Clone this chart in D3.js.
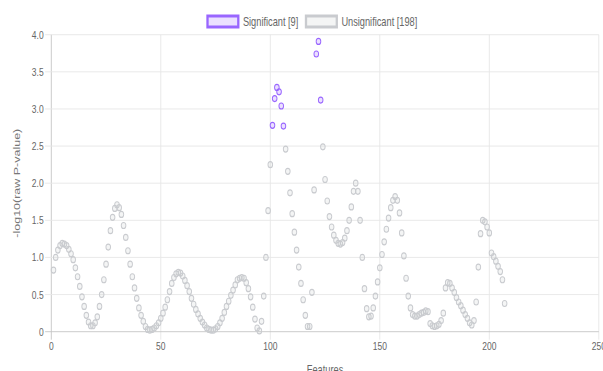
<!DOCTYPE html>
<html>
<head>
<meta charset="utf-8">
<script src="https://cdn.jsdelivr.net/npm/d3@7"></script>
<style>
  html, body { margin: 0; padding: 0; background: #fff; }
  svg { display: block; font-family: "Liberation Sans", Arial, sans-serif; }
</style>
</head>
<body>
<div id="chart"></div>
<script>
// -log10(raw P-value) per feature, features numbered 1..207
const pValues = [
  0.83, 1.00, 1.10, 1.16, 1.19, 1.18, 1.16, 1.11, 1.05, 0.97,
  0.86, 0.74, 0.61, 0.47, 0.34, 0.22, 0.13, 0.08, 0.08, 0.12,
  0.20, 0.34, 0.50, 0.70, 0.91, 1.14, 1.36, 1.54, 1.66, 1.71,
  1.67, 1.58, 1.43, 1.27, 1.09, 0.91, 0.74, 0.59, 0.45, 0.32,
  0.22, 0.14, 0.07, 0.03, 0.02, 0.03, 0.05, 0.08, 0.12, 0.18,
  0.25, 0.33, 0.43, 0.54, 0.65, 0.73, 0.78, 0.80, 0.79, 0.75,
  0.69, 0.62, 0.54, 0.45, 0.37, 0.30, 0.24, 0.18, 0.13, 0.09,
  0.05, 0.03, 0.02, 0.02, 0.04, 0.07, 0.12, 0.18, 0.26, 0.34,
  0.41, 0.49, 0.56, 0.63, 0.70, 0.72, 0.73, 0.72, 0.66, 0.58,
  0.47, 0.33, 0.17, 0.05, 0.01, 0.14, 0.48, 1.00, 1.63, 2.25,
  2.78, 3.14, 3.29, 3.23, 3.04, 2.77, 2.46, 2.16, 1.87, 1.59,
  1.34, 1.10, 0.87, 0.65, 0.43, 0.22, 0.07, 0.07, 0.53, 1.91,
  3.74, 3.91, 3.12, 2.49, 2.05, 1.76, 1.55, 1.41, 1.30, 1.23,
  1.19, 1.18, 1.20, 1.26, 1.36, 1.50, 1.68, 1.89, 2.00, 1.89,
  1.50, 1.00, 0.58, 0.31, 0.20, 0.21, 0.32, 0.48, 0.67, 0.86,
  1.04, 1.21, 1.38, 1.53, 1.67, 1.77, 1.82, 1.77, 1.60, 1.33,
  1.02, 0.72, 0.48, 0.32, 0.23, 0.21, 0.21, 0.23, 0.25, 0.26,
  0.28, 0.27, 0.11, 0.08, 0.07, 0.08, 0.10, 0.15, 0.25, 0.59,
  0.66, 0.65, 0.59, 0.53, 0.46, 0.40, 0.35, 0.29, 0.23, 0.18,
  0.12, 0.09, 0.15, 0.40, 0.87, 1.32, 1.50, 1.48, 1.41, 1.33,
  1.06, 1.01, 0.95, 0.88, 0.81, 0.70, 0.38
];
const significantIds = [101, 102, 103, 104, 105, 106, 121, 122, 123];

const xTicks = [0, 50, 100, 150, 200, 250];
const yTicks = [0, 0.5, 1, 1.5, 2, 2.5, 3, 3.5, 4];
const yTickLabels = ["0", "0.5", "1.0", "1.5", "2.0", "2.5", "3.0", "3.5", "4.0"];

const seriesNames = ["Significant", "Unsignificant"];

// the reference is squeezed horizontally, so draw in a wider space and scale x
const sx = 0.77;
const width = 603, height = 371;

const points = pValues.map((v, i) => ({ id: i + 1, value: v, sig: significantIds.includes(i + 1) }));
const nSig = points.filter(d => d.sig).length;
const nUns = points.length - nSig;

const svg = d3.select("#chart").append("svg")
    .attr("width", width)
    .attr("height", height);

const g = svg.append("g").attr("transform", `scale(${sx},1)`);

const x = d3.scaleLinear().domain([0, 250]).range([51.3 / sx, 598.8 / sx]);
const y = d3.scaleLinear().domain([0, 4]).range([331.7, 34.7]);

const gridColor = "#e6e6e6";
const zeroColor = "#c4c4c4";
const tickLen = 8;

// vertical grid lines
g.append("g").selectAll("line")
    .data(xTicks)
    .join("line")
    .attr("x1", d => x(d)).attr("x2", d => x(d))
    .attr("y1", y(4)).attr("y2", y(0) + tickLen)
    .attr("stroke", d => d === 0 ? zeroColor : gridColor)
    .attr("stroke-width", 1);

// horizontal grid lines
g.append("g").selectAll("line")
    .data(yTicks)
    .join("line")
    .attr("x1", x(0) - tickLen).attr("x2", x(250))
    .attr("y1", d => y(d)).attr("y2", d => y(d))
    .attr("stroke", d => d === 0 ? zeroColor : gridColor)
    .attr("stroke-width", 1);

// tick labels
g.append("g").selectAll("text")
    .data(yTicks)
    .join("text")
    .attr("x", x(0) - 10)
    .attr("y", d => y(d) + 4)
    .attr("text-anchor", "end")
    .attr("font-size", 11)
    .attr("fill", "#666")
    .text((d, i) => yTickLabels[i]);

g.append("g").selectAll("text")
    .data(xTicks)
    .join("text")
    .attr("x", d => x(d))
    .attr("y", 350)
    .attr("text-anchor", "middle")
    .attr("font-size", 11)
    .attr("fill", "#666")
    .text(d => d);

// axis titles
g.append("text")
    .attr("x", (x(0) + x(250)) / 2)
    .attr("y", 374)
    .attr("text-anchor", "middle")
    .attr("font-size", 12)
    .attr("fill", "#666")
    .text("Features");

g.append("text")
    .attr("transform", `translate(${17 / sx},${(y(0) + y(4)) / 2}) rotate(-90)`)
    .attr("text-anchor", "middle")
    .attr("dy", "0.35em")
    .attr("font-size", 12.5)
    .attr("fill", "#777")
    .text("-log10(raw P-value)");

// points
const styles = {
    false: { stroke: "rgb(201,203,207)", fill: "rgba(201,203,207,0.2)" },
    true: { stroke: "rgb(153,102,255)", fill: "rgba(153,102,255,0.2)" }
};

g.append("g").selectAll("circle")
    .data(points.filter(d => !d.sig).concat(points.filter(d => d.sig)))
    .join("circle")
    .attr("cx", d => x(d.id))
    .attr("cy", d => y(d.value))
    .attr("r", 3)
    .attr("fill", d => styles[d.sig].fill)
    .attr("stroke", d => styles[d.sig].stroke)
    .attr("stroke-width", 1.2);

// legend
const legendItems = [
    { label: `${seriesNames[0]} [${nSig}]`, sig: true },
    { label: `${seriesNames[1]} [${nUns}]`, sig: false }
];
const legend = g.append("g");
let lx = 207.5 / sx;
legendItems.forEach(item => {
    legend.append("rect")
        .attr("x", lx).attr("y", 16)
        .attr("width", 40).attr("height", 11)
        .attr("fill", styles[item.sig].fill)
        .attr("stroke", styles[item.sig].stroke)
        .attr("stroke-width", 3);
    const t = legend.append("text")
        .attr("x", lx + 46)
        .attr("y", 26)
        .attr("font-size", 12)
        .attr("fill", "#666")
        .text(item.label);
    lx += 46 + t.node().getComputedTextLength() + 10;
});
</script>
</body>
</html>
